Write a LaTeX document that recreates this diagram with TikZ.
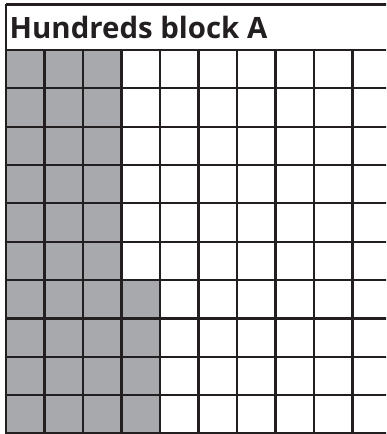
\documentclass[tikz,border=0pt]{standalone}
\usepackage{fontspec}
\setmainfont{Open Sans}
\definecolor{gline}{HTML}{231F20}
\definecolor{gfill}{HTML}{A7A9AC}
\begin{document}
\begin{tikzpicture}[x=1bp,y=-1bp,
  gridline/.style={draw=gline,line width=2.2bp},
  shaded/.style={fill=gfill}]
\useasboundingbox (0,0) rectangle (386,434);
\clip (0,0) rectangle (386,434);
% shaded cells
\fill[shaded] (6,50) rectangle (121.5,280);
\fill[shaded] (6,280) rectangle (160,434);
% title box
\draw[gridline] (6,4.5) -- (395,4.5);
\node[anchor=base west,inner sep=0pt,font=\bfseries\fontsize{29.5}{32}\selectfont,text=gline] (title) at (9.5,38.5) {Hundreds block A};
% grid
\foreach \i in {0,...,10} {
  \draw[gridline] ({6+38.5*\i},{\i==0 ? 4.5 : 50}) -- ({6+38.5*\i},433.5);
}
\foreach \j in {0,...,10} {
  \draw[gridline] (6,{50+38.35*\j}) -- (395,{50+38.35*\j});
}
\end{tikzpicture}
\end{document}
